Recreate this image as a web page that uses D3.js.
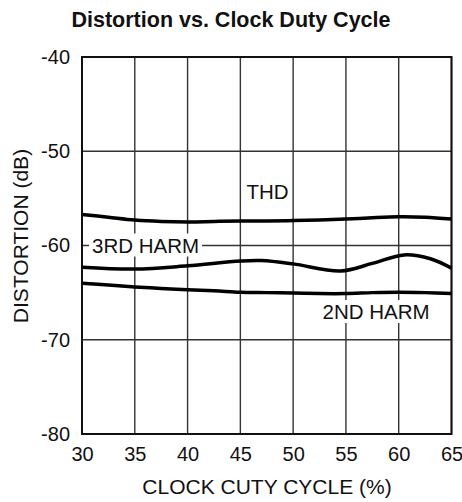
<!DOCTYPE html>
<html>
<head>
<meta charset="utf-8">
<script src="https://cdn.jsdelivr.net/npm/d3@7"></script>
<style>
  body { margin: 0; background: #fff; }
  svg text { font-family: "Liberation Sans", Arial, sans-serif; fill: #111; }
</style>
</head>
<body>
<div id="chart"></div>
<script>
// data
var duty = [30, 32.5, 35, 37.5, 40, 42.5, 45, 47.5, 50, 52.5, 55, 57.5, 60, 62.5, 65];
var thd = [-56.7, -57.0, -57.3, -57.45, -57.5, -57.45, -57.4, -57.4, -57.35, -57.3, -57.2, -57.05, -56.95, -57.0, -57.2];
var harm2 = [-64.0, -64.2, -64.4, -64.55, -64.7, -64.8, -64.95, -65.0, -65.05, -65.1, -65.1, -65.0, -64.95, -65.0, -65.1];
var duty3 = [30, 35, 40, 45, 47, 50, 54.5, 57.5, 60.5, 63, 65];
var harm3 = [-62.3, -62.5, -62.15, -61.65, -61.6, -61.95, -62.7, -61.9, -61.0, -61.4, -62.4];
var xTicks = [30, 35, 40, 45, 50, 55, 60, 65];
var yTicks = [-80, -70, -60, -50, -40];

var width = 462, height = 502;
var margin = { top: 57, right: 10, bottom: 68, left: 82 };
var w = 451.5 - margin.left, h = 434 - margin.top;

var svg = d3.select("#chart").append("svg")
  .attr("width", width)
  .attr("height", height);

var g = svg.append("g")
  .attr("transform", "translate(" + margin.left + "," + margin.top + ")");

var x = d3.scaleLinear().domain([30, 65]).range([0, w]);
var y = d3.scaleLinear().domain([-80, -40]).range([h, 0]);

// grid
g.selectAll(".vgrid").data(xTicks).enter().append("line")
  .attr("x1", function(d) { return x(d); })
  .attr("x2", function(d) { return x(d); })
  .attr("y1", 0).attr("y2", h)
  .attr("stroke", "#333").attr("stroke-width", 1.4);

g.selectAll(".hgrid").data(yTicks).enter().append("line")
  .attr("x1", 0).attr("x2", w)
  .attr("y1", function(d) { return y(d); })
  .attr("y2", function(d) { return y(d); })
  .attr("stroke", "#333").attr("stroke-width", 1.4);

g.append("rect")
  .attr("width", w).attr("height", h)
  .attr("fill", "none").attr("stroke", "#111").attr("stroke-width", 2);

// axes labels (plain hyphen for negatives, like the original)
var fmt = function(d) { return String(d); };
var xAxis = d3.axisBottom(x).tickValues(xTicks).tickSize(0).tickPadding(13).tickFormat(fmt);
var yAxis = d3.axisLeft(y).tickValues(yTicks).tickSize(0).tickPadding(12).tickFormat(fmt);

g.append("g").attr("transform", "translate(0," + h + ")").call(xAxis)
  .call(function(a) { a.select(".domain").remove(); })
  .selectAll("text").style("font-size", "20px").attr("fill", "#111");

g.append("g").call(yAxis)
  .call(function(a) { a.select(".domain").remove(); })
  .selectAll("text").style("font-size", "20px").attr("fill", "#111");

// curves
var line = d3.line()
  .x(function(d) { return x(d[0]); })
  .y(function(d) { return y(d[1]); })
  .curve(d3.curveCatmullRom);

[[duty, thd], [duty3, harm3], [duty, harm2]].forEach(function(s) {
  g.append("path")
    .datum(d3.zip(s[0], s[1]))
    .attr("fill", "none")
    .attr("stroke", "#000")
    .attr("stroke-width", 3.5)
    .attr("d", line);
});

// curve labels
function label(txt, cx, cy, bg) {
  var t = svg.append("text")
    .attr("x", cx).attr("y", cy)
    .style("font-size", "20.5px")
    .text(txt);
  if (bg) {
    var b = t.node().getBBox();
    svg.insert("rect", function() { return t.node(); })
      .attr("x", b.x - 3).attr("y", b.y)
      .attr("width", b.width + 6).attr("height", b.height)
      .attr("fill", "#fff");
  }
}
label("THD", 246.5, 199, false);
label("3RD HARM", 92, 252.5, true);
label("2ND HARM", 322.5, 319, true);

// titles
svg.append("text")
  .attr("x", 231).attr("y", 27)
  .attr("text-anchor", "middle")
  .style("font-size", "21.5px").style("font-weight", "bold")
  .text("Distortion vs. Clock Duty Cycle");

svg.append("text")
  .attr("x", 267).attr("y", 494)
  .attr("text-anchor", "middle")
  .style("font-size", "21px")
  .text("CLOCK CUTY CYCLE (%)");

svg.append("text")
  .attr("transform", "translate(28,236) rotate(-90)")
  .attr("text-anchor", "middle")
  .style("font-size", "21px")
  .text("DISTORTION (dB)");
</script>
</body>
</html>
